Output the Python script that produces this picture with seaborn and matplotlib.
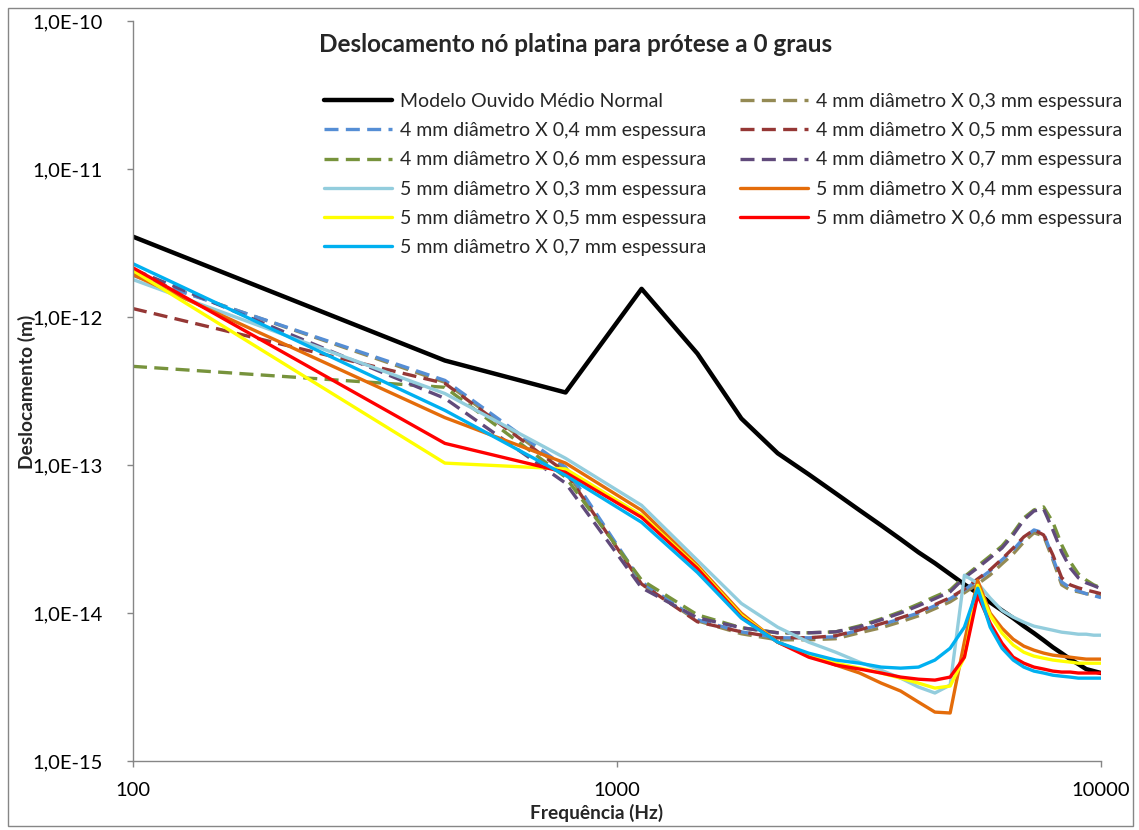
import numpy as np
import pandas as pd
import matplotlib
matplotlib.use("Agg")
import matplotlib.pyplot as plt
import seaborn as sns
from matplotlib.ticker import FixedLocator, FixedFormatter, NullLocator
from matplotlib.patches import Rectangle

# frequencias (Hz)
freq = [100, 441, 783, 1124, 1466, 1807, 2148, 2490, 2831, 3172,
        3514, 3855, 4197, 4538, 4879, 5221, 5562, 5903, 6245, 6586,
        6928, 7269, 7610, 7952, 8293, 8634, 8976, 9317, 9659, 10000]

normal = [3.49e-12, 5.08e-13, 3.09e-13, 1.55e-12, 5.66e-13, 2.06e-13, 1.20e-13, 8.64e-14, 6.43e-14, 4.94e-14,
          3.91e-14, 3.15e-14, 2.57e-14, 2.17e-14, 1.83e-14, 1.56e-14, 1.36e-14, 1.18e-14, 1.04e-14, 9.23e-15,
          8.15e-15, 7.31e-15, 6.55e-15, 5.87e-15, 5.35e-15, 4.88e-15, 4.52e-15, 4.18e-15, 4.05e-15, 3.93e-15]

d4_e03 = [1.94e-12, 3.62e-13, 9.22e-14, 1.57e-14, 8.86e-15, 7.24e-15, 6.59e-15, 6.59e-15, 6.70e-15, 7.35e-15,
          7.95e-15, 8.72e-15, 9.57e-15, 1.07e-14, 1.19e-14, 1.37e-14, 1.57e-14, 1.81e-14, 2.15e-14, 2.51e-14,
          3.02e-14, 3.48e-14, 3.32e-14, 2.29e-14, 1.55e-14, 1.43e-14, 1.39e-14, 1.35e-14, 1.33e-14, 1.29e-14]
d4_e04 = [1.91e-12, 3.73e-13, 9.66e-14, 1.62e-14, 9.00e-15, 7.46e-15, 6.80e-15, 6.80e-15, 6.91e-15, 7.70e-15,
          8.33e-15, 9.14e-15, 1.00e-14, 1.12e-14, 1.25e-14, 1.43e-14, 1.67e-14, 1.93e-14, 2.29e-14, 2.67e-14,
          3.22e-14, 3.64e-14, 3.48e-14, 2.36e-14, 1.62e-14, 1.48e-14, 1.41e-14, 1.35e-14, 1.31e-14, 1.27e-14]
d4_e05 = [1.14e-12, 3.56e-13, 8.94e-14, 1.57e-14, 8.72e-15, 7.46e-15, 6.80e-15, 6.80e-15, 7.02e-15, 7.70e-15,
          8.46e-15, 9.28e-15, 1.02e-14, 1.14e-14, 1.27e-14, 1.45e-14, 1.70e-14, 1.96e-14, 2.32e-14, 2.75e-14,
          3.27e-14, 3.64e-14, 3.37e-14, 2.47e-14, 1.73e-14, 1.55e-14, 1.48e-14, 1.43e-14, 1.39e-14, 1.35e-14]
d4_e06 = [4.64e-13, 3.35e-13, 8.27e-14, 1.67e-14, 9.72e-15, 7.95e-15, 7.35e-15, 7.35e-15, 7.46e-15, 8.19e-15,
          9.14e-15, 1.02e-14, 1.15e-14, 1.29e-14, 1.43e-14, 1.76e-14, 2.08e-14, 2.43e-14, 2.84e-14, 3.48e-14,
          4.39e-14, 4.97e-14, 5.21e-14, 4.12e-14, 2.89e-14, 2.22e-14, 1.84e-14, 1.67e-14, 1.55e-14, 1.48e-14]
d4_e07 = [2.10e-12, 2.82e-13, 7.54e-14, 1.48e-14, 9.28e-15, 7.95e-15, 7.35e-15, 7.35e-15, 7.46e-15, 8.07e-15,
          9.00e-15, 1.00e-14, 1.12e-14, 1.25e-14, 1.39e-14, 1.73e-14, 2.02e-14, 2.36e-14, 2.75e-14, 3.37e-14,
          4.26e-14, 4.89e-14, 5.05e-14, 3.64e-14, 2.59e-14, 2.02e-14, 1.73e-14, 1.60e-14, 1.53e-14, 1.46e-14]

d5_e03 = [1.79e-12, 3.04e-13, 1.11e-13, 5.34e-14, 2.27e-14, 1.16e-14, 8.02e-15, 6.35e-15, 5.43e-15, 4.65e-15,
          4.11e-15, 3.63e-15, 3.16e-15, 2.88e-15, 3.26e-15, 1.80e-14, 1.59e-14, 1.26e-14, 1.04e-14, 9.38e-15,
          8.67e-15, 8.15e-15, 7.89e-15, 7.65e-15, 7.42e-15, 7.31e-15, 7.19e-15, 7.19e-15, 7.08e-15, 7.08e-15]
d5_e04 = [1.93e-12, 2.09e-13, 1.03e-13, 4.94e-14, 2.10e-14, 9.97e-15, 6.35e-15, 5.19e-15, 4.45e-15, 3.93e-15,
          3.36e-15, 2.97e-15, 2.50e-15, 2.14e-15, 2.11e-15, 6.40e-15, 1.66e-14, 9.97e-15, 7.89e-15, 6.65e-15,
          5.97e-15, 5.61e-15, 5.36e-15, 5.19e-15, 5.11e-15, 5.03e-15, 4.95e-15, 4.88e-15, 4.88e-15, 4.88e-15]
d5_e05 = [2.06e-12, 1.03e-13, 9.40e-14, 4.57e-14, 2.04e-14, 9.66e-15, 6.35e-15, 5.19e-15, 4.58e-15, 4.24e-15,
          3.93e-15, 3.63e-15, 3.36e-15, 3.11e-15, 3.21e-15, 5.03e-15, 1.54e-14, 9.66e-15, 7.31e-15, 6.07e-15,
          5.43e-15, 5.11e-15, 4.95e-15, 4.81e-15, 4.73e-15, 4.66e-15, 4.58e-15, 4.58e-15, 4.58e-15, 4.58e-15]
d5_e06 = [2.15e-12, 1.40e-13, 8.91e-14, 4.43e-14, 2.00e-14, 9.38e-15, 6.35e-15, 5.03e-15, 4.45e-15, 4.18e-15,
          3.93e-15, 3.69e-15, 3.57e-15, 3.52e-15, 3.69e-15, 5.03e-15, 1.32e-14, 8.53e-15, 6.25e-15, 5.03e-15,
          4.58e-15, 4.31e-15, 4.18e-15, 4.05e-15, 3.99e-15, 3.99e-15, 3.93e-15, 3.93e-15, 3.93e-15, 3.93e-15]
d5_e07 = [2.29e-12, 2.34e-13, 8.51e-14, 4.10e-14, 1.88e-14, 9.23e-15, 6.35e-15, 5.35e-15, 4.81e-15, 4.58e-15,
          4.31e-15, 4.24e-15, 4.31e-15, 4.81e-15, 5.78e-15, 8.02e-15, 1.47e-14, 8.02e-15, 5.78e-15, 4.81e-15,
          4.31e-15, 4.05e-15, 3.93e-15, 3.80e-15, 3.74e-15, 3.69e-15, 3.63e-15, 3.63e-15, 3.63e-15, 3.63e-15]

labels = ["Modelo Ouvido Médio Normal",
          "4 mm diâmetro X 0,3 mm espessura",
          "4 mm diâmetro X 0,4 mm espessura",
          "4 mm diâmetro X 0,5 mm espessura",
          "4 mm diâmetro X 0,6 mm espessura",
          "4 mm diâmetro X 0,7 mm espessura",
          "5 mm diâmetro X 0,3 mm espessura",
          "5 mm diâmetro X 0,4 mm espessura",
          "5 mm diâmetro X 0,5 mm espessura",
          "5 mm diâmetro X 0,6 mm espessura",
          "5 mm diâmetro X 0,7 mm espessura"]
series = [normal, d4_e03, d4_e04, d4_e05, d4_e06, d4_e07,
          d5_e03, d5_e04, d5_e05, d5_e06, d5_e07]
colors = ["#000000", "#948A54", "#558ED5", "#953735", "#77933C", "#604A7B",
          "#93CDDD", "#E46C0A", "#FFFF00", "#FF0000", "#00B0F0"]

df = pd.concat([pd.DataFrame({"freq": freq, "desl": s, "serie": lab})
                for s, lab in zip(series, labels)], ignore_index=True)

sns.set_style("white")
plt.rcParams["font.family"] = ["Lato", "DejaVu Sans"]

fig = plt.figure(figsize=(11.39, 8.30), dpi=100)
ax = fig.add_axes([133 / 1139, 1 - 761 / 830, (1101 - 133) / 1139, (761 - 21) / 830])

for lab, col in zip(labels, colors):
    sub = df[df["serie"] == lab]
    sns.lineplot(data=sub, x="freq", y="desl", ax=ax, color=col, label=lab,
                 estimator=None, lw=3.2 if lab.startswith("Modelo") else 2.4)
    if lab.startswith("4 mm"):
        ax.lines[-1].set_dashes((4.2, 2.2))

ax.set_xscale("log")
ax.set_yscale("log")
ax.set_xlim(100, 10000)
ax.set_ylim(1e-15, 1e-10)

ax.xaxis.set_major_locator(FixedLocator([100, 1000, 10000]))
ax.xaxis.set_major_formatter(FixedFormatter(["100", "1000", "10000"]))
ax.xaxis.set_minor_locator(NullLocator())
yt = [1e-15, 1e-14, 1e-13, 1e-12, 1e-11, 1e-10]
ax.yaxis.set_major_locator(FixedLocator(yt))
ax.yaxis.set_major_formatter(FixedFormatter(["1,0E-15", "1,0E-14", "1,0E-13", "1,0E-12", "1,0E-11", "1,0E-10"]))
ax.yaxis.set_minor_locator(NullLocator())

for sp in ["top", "right"]:
    ax.spines[sp].set_visible(False)
for sp in ["left", "bottom"]:
    ax.spines[sp].set_color("#868686")
    ax.spines[sp].set_linewidth(1.0)
ax.tick_params(axis="both", which="major", direction="out", length=4, width=1,
               color="#868686", labelsize=14.5, labelcolor="black", left=True, bottom=True)
ax.tick_params(axis="y", pad=18)
ax.tick_params(axis="x", pad=11)
ax.set_xlabel("")
ax.set_ylabel("")

fig.text(597 / 1139, 1 - 813 / 830, "Frequência (Hz)", ha="center", va="center",
         fontsize=13.8, fontweight="bold")
fig.text(27 / 1139, 1 - 392 / 830, "Deslocamento (m)", ha="center", va="center",
         rotation=90, fontsize=13.8, fontweight="bold")
fig.text(576 / 1139, 1 - 45 / 830, "Deslocamento nó platina para prótese a 0 graus",
         ha="center", va="center", fontsize=17.5, fontweight="bold")

handles, labs = ax.get_legend_handles_labels()
order = [0, 2, 4, 6, 8, 10, 1, 3, 5, 7, 9]
ax.legend([handles[i] for i in order], [labs[i] for i in order], ncol=2, frameon=False,
          loc="upper left", bbox_to_anchor=(324 / 1139, 1 - 93 / 830), bbox_transform=fig.transFigure,
          fontsize=14, handlelength=3.5, handletextpad=0.4, columnspacing=1.75,
          labelspacing=0.63, borderpad=0, borderaxespad=0)

fig.patches.append(Rectangle((8 / 1139, 4 / 830), 1125 / 1139, 818 / 830, transform=fig.transFigure,
                             fill=False, edgecolor="#868686", lw=1.0))

fig.savefig("out.png", dpi=100)
